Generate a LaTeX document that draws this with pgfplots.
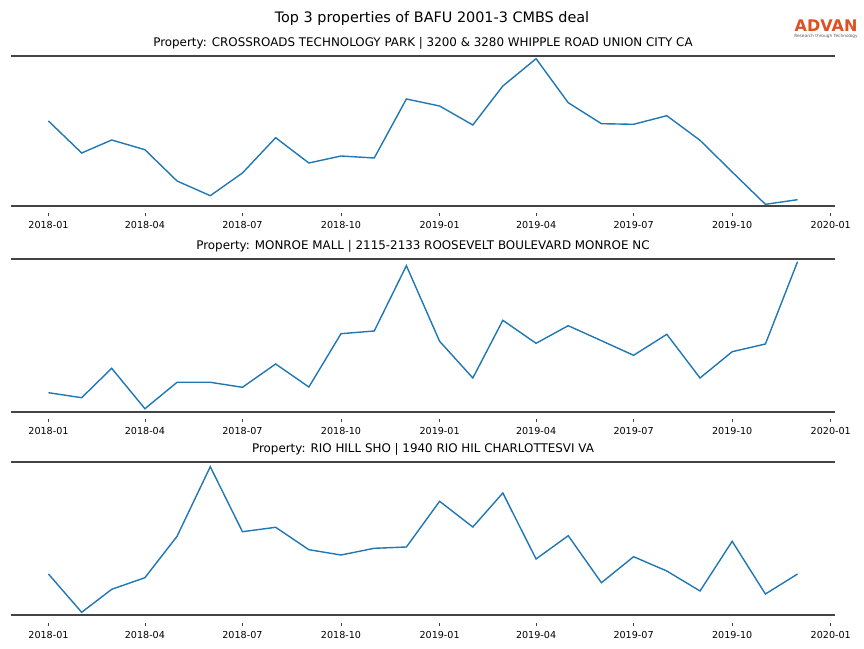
\documentclass[border=0pt]{standalone}
\usepackage{fontspec}
\setmainfont{DejaVu Sans}
\usepackage{pgfplots}
\pgfplotsset{compat=1.18}

\definecolor{mplblue}{HTML}{1F77B4}
\definecolor{spine}{HTML}{444444}
\definecolor{advan}{HTML}{E0501E}

% x = days since 2018-01-01, y = height
\pgfplotsset{
  panel/.style={
    scale only axis,
    width=824pt,
    anchor=south west,
    xmin=-34.95, xmax=733.95,
    ymin=0,
    xtick={0,90,181,273,365,455,546,638,730},
    xticklabels={2018-01,2018-04,2018-07,2018-10,2019-01,2019-04,2019-07,2019-10,2020-01},
    xtick pos=bottom,
    xtick align=outside,
    major tick length=3.5pt,
    x tick style={black!75, line width=0.8pt, yshift=-7.2pt},
    ytick=\empty,
    separate axis lines,
    x axis line style={spine, line width=1.7pt},
    y axis line style={draw=none},
    xticklabel style={font=\fontsize{9.6}{11}\selectfont, yshift=-9pt},
    title style={font=\fontsize{11.9}{14}\selectfont, yshift=-3pt},
    clip=false,
  },
  series/.style={mplblue, line width=1.4pt},
}

\begin{document}
\begin{tikzpicture}[x=1pt,y=1pt]
\useasboundingbox (0,0) rectangle (864,648);

\node[font=\fontsize{14.4}{17}\selectfont] at (432,629) {Top 3 properties of BAFU 2001-3 CMBS deal};
\node[font=\bfseries\fontsize{16}{18}\selectfont, text=advan, inner sep=0pt] at (826,622.5) {ADVAN};
\node[font=\fontsize{4.3}{5}\selectfont, text=black!65, inner sep=0pt] at (826,612) {Research through Technology};

% panel 1
\begin{axis}[panel, at={(11pt,442.3pt)}, height=150pt, ymax=150,
  title={Property: CROSSROADS TECHNOLOGY PARK | 3200 \& 3280 WHIPPLE ROAD UNION CITY CA}]
\addplot[series] coordinates {
 (0,84.7) (31,52.7) (59,65.7) (90,56) (120,24.7) (151,10) (181,32.7) (212,68)
 (243,42.7) (273,49.7) (304,47.7) (334,106.7) (365,99.7) (396,80.7) (424,119.7) (455,147)
 (485,103) (516,82) (546,81.4) (577,90) (608,65.4) (638,33.7) (669,1.4) (699,6)
};
\end{axis}

% panel 2
\begin{axis}[panel, at={(11pt,236.3pt)}, height=152.7pt, ymax=152.7,
  title={Property: MONROE MALL | 2115-2133 ROOSEVELT BOULEVARD MONROE NC}]
\addplot[series] coordinates {
 (0,19) (31,14) (59,43.4) (90,3) (120,29.4) (151,29.4) (181,24.4) (212,47.7)
 (243,24.7) (273,78) (304,80.7) (334,146) (365,70.4) (396,33.7) (424,91.4) (455,68.4)
 (485,86) (516,71) (546,56.4) (577,77.4) (608,33.7) (638,60) (669,67.7) (699,150)
};
\end{axis}

% panel 3
\begin{axis}[panel, at={(11pt,32.7pt)}, height=153.3pt, ymax=153.3,
  title={Property: RIO HILL SHO | 1940 RIO HIL CHARLOTTESVI VA}]
\addplot[series] coordinates {
 (0,41.3) (31,3) (59,26) (90,37.6) (120,79) (151,148.6) (181,83.6) (212,88)
 (243,65.6) (273,60.3) (304,67) (334,68.3) (365,114) (396,88.3) (424,122.3) (455,56.3)
 (485,79.6) (516,32.6) (546,58.6) (577,44.3) (608,24.3) (638,74) (669,21.3) (699,41.3)
};
\end{axis}
\end{tikzpicture}
\end{document}
